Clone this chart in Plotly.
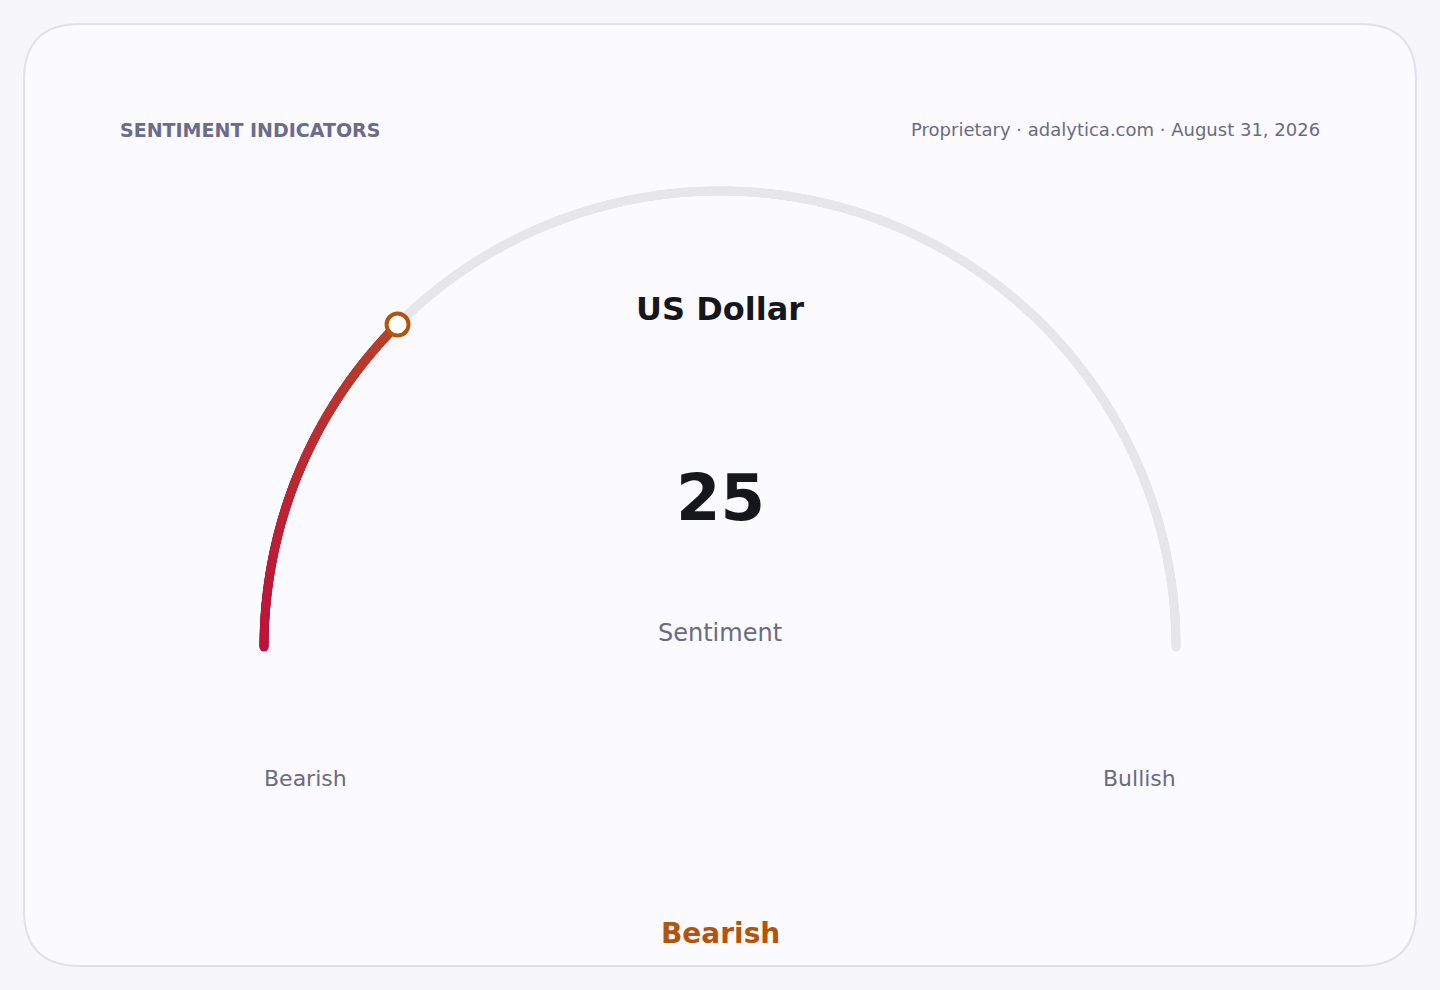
import numpy as np
import plotly.graph_objects as go

# data
asset = "US Dollar"
metric = "Sentiment"
score = 25
scale_min, scale_max = 0, 100
scale_labels = ["Bearish", "Bullish"]
verdict = "Bearish"
header_left = "SENTIMENT INDICATORS"
header_right = "Proprietary · adalytica.com · August 31, 2026"

W, H = 1440, 990
FONT = "DejaVu Sans"
PAGE_BG = "#f7f7fb"
CARD_BG = "#fafaff"
MUTED = "#6b6b80"
ACCENT = "#b45309"
TRACK = "#e6e6eb"


def to_deg(v):
    # 0 -> left end of the half circle, max -> right end
    return (v - scale_min) / (scale_max - scale_min) * 180.0


def px(x, y):
    return x / W, 1 - y / H


def card_path(x0, y0, x1, y1, r):
    def p(x, y):
        a, b = px(x, y)
        return f"{a:.5f},{b:.5f}"
    pts = [
        "M" + p(x0 + r, y0),
        "L" + p(x1 - r, y0),
        "Q" + p(x1, y0) + " " + p(x1, y0 + r),
        "L" + p(x1, y1 - r),
        "Q" + p(x1, y1) + " " + p(x1 - r, y1),
        "L" + p(x0 + r, y1),
        "Q" + p(x0, y1) + " " + p(x0, y1 - r),
        "L" + p(x0, y0 + r),
        "Q" + p(x0, y0) + " " + p(x0 + r, y0),
    ]
    return " ".join(pts) + " Z"


fig = go.Figure()

# grey track (dense markers give a thick stroke with round caps)
track_theta = np.linspace(to_deg(scale_min), to_deg(scale_max), 1600)
fig.add_trace(go.Scatterpolar(
    r=np.ones_like(track_theta), theta=track_theta, mode="markers",
    marker=dict(color=TRACK, size=9, line=dict(width=0)),
    cliponaxis=False, hoverinfo="skip", showlegend=False,
))

# coloured progress arc
fill_theta = np.linspace(to_deg(scale_min), to_deg(score), 450)
fig.add_trace(go.Scatterpolar(
    r=np.ones_like(fill_theta), theta=fill_theta, mode="markers",
    marker=dict(size=9, color=fill_theta, line=dict(width=0),
                colorscale=[[0, "#be123c"], [1, "#b8402a"]], showscale=False),
    cliponaxis=False, hoverinfo="skip", showlegend=False,
))

# knob
fig.add_trace(go.Scatterpolar(
    r=[1], theta=[to_deg(score)], mode="markers",
    marker=dict(size=22, color="#ffffff", line=dict(color=ACCENT, width=4)),
    cliponaxis=False, hoverinfo="skip", showlegend=False,
))

cx, cy, R = 720, 647, 456
fig.update_layout(
    width=W, height=H,
    margin=dict(l=0, r=0, t=0, b=0),
    paper_bgcolor=PAGE_BG,
    plot_bgcolor=PAGE_BG,
    font=dict(family=FONT),
    showlegend=False,
    polar=dict(
        domain=dict(x=[(cx - R) / W, (cx + R) / W],
                    y=[(H - cy) / H, (H - cy + R) / H]),
        sector=[0, 180],
        bgcolor="rgba(0,0,0,0)",
        radialaxis=dict(visible=False, range=[0, 1]),
        angularaxis=dict(visible=False, rotation=180, direction="clockwise"),
    ),
    shapes=[dict(
        type="path", xref="paper", yref="paper", layer="below",
        path=card_path(24, 24, 1416, 966, 56),
        fillcolor=CARD_BG, line=dict(color="#e1e1ec", width=2),
    )],
)


def note(text, x, y, size, color, bold=False, xanchor="center"):
    a, b = px(x, y)
    fig.add_annotation(
        text=f"<b>{text}</b>" if bold else text,
        x=a, y=b, xref="paper", yref="paper",
        xanchor=xanchor, yanchor="middle", showarrow=False,
        font=dict(family=FONT, size=size, color=color),
    )


note(header_left, 118, 130, 19, "#6b6b8a", bold=True, xanchor="left")
note(header_right, 1322, 130, 18, MUTED, xanchor="right")
note(asset, cx, 309, 32, "#16161d", bold=True)
note(str(score), cx, 498, 64, "#16161d", bold=True)
note(metric, cx, 633, 24, MUTED)
note(scale_labels[0], cx - R - 2, 778, 22, MUTED, xanchor="left")
note(scale_labels[1], cx + R + 2, 778, 22, MUTED, xanchor="right")
note(verdict, cx, 933, 28, ACCENT, bold=True)

# drop the default 8px body margin so the figure fills the window
fig.write_html(
    "out.html",
    config={"displayModeBar": False},
    post_script="document.body.style.margin='0';"
                "document.body.style.background='" + PAGE_BG + "';",
)
